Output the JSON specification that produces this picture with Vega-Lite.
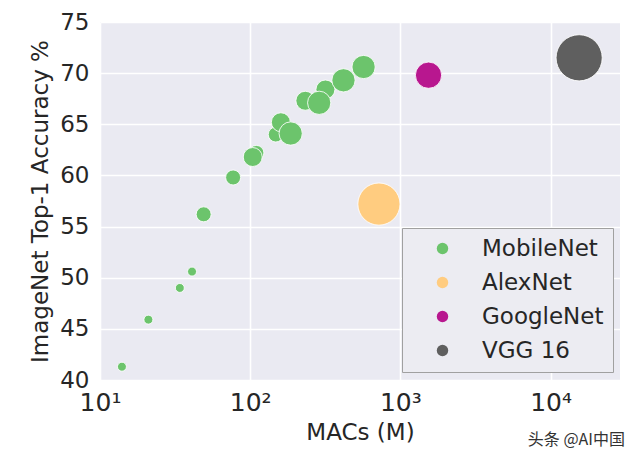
{
  "$schema": "https://vega.github.io/schema/vega-lite/v6.json",
  "width": 520,
  "height": 358,
  "autosize": "none",
  "padding": {"left": 100, "top": 22, "right": 20, "bottom": 81},
  "background": "white",
  "title": {
    "text": "头条 @AI中国",
    "orient": "bottom",
    "anchor": "end",
    "font": "Noto Sans CJK SC",
    "fontSize": 16,
    "fontWeight": "normal",
    "color": "#333333",
    "offset": -12,
    "dx": 5
  },
  "config": {
    "view": {"fill": "#EAEAF2", "stroke": null},
    "font": "DejaVu Sans",
    "axis": {
      "domain": false,
      "ticks": false,
      "grid": true,
      "gridColor": "white",
      "gridWidth": 1.6,
      "labelFont": "DejaVu Sans",
      "labelColor": "#262626",
      "titleFont": "DejaVu Sans",
      "titleColor": "#262626",
      "titleFontWeight": "normal"
    }
  },
  "data": {
    "values": [
      {"model": "MobileNet", "macs": 14, "acc": 41.3, "params": 0.47},
      {"model": "MobileNet", "macs": 21, "acc": 45.9, "params": 0.47},
      {"model": "MobileNet", "macs": 34, "acc": 49.0, "params": 0.47},
      {"model": "MobileNet", "macs": 41, "acc": 50.6, "params": 0.47},
      {"model": "MobileNet", "macs": 49, "acc": 56.2, "params": 1.32},
      {"model": "MobileNet", "macs": 77, "acc": 59.8, "params": 1.32},
      {"model": "MobileNet", "macs": 110, "acc": 62.2, "params": 1.32},
      {"model": "MobileNet", "macs": 148, "acc": 64.0, "params": 1.32},
      {"model": "MobileNet", "macs": 104, "acc": 61.8, "params": 2.59},
      {"model": "MobileNet", "macs": 160, "acc": 65.2, "params": 2.59},
      {"model": "MobileNet", "macs": 233, "acc": 67.3, "params": 2.59},
      {"model": "MobileNet", "macs": 317, "acc": 68.4, "params": 2.59},
      {"model": "MobileNet", "macs": 186, "acc": 64.1, "params": 4.24},
      {"model": "MobileNet", "macs": 288, "acc": 67.1, "params": 4.24},
      {"model": "MobileNet", "macs": 418, "acc": 69.3, "params": 4.24},
      {"model": "MobileNet", "macs": 569, "acc": 70.6, "params": 4.24},
      {"model": "AlexNet", "macs": 720, "acc": 57.2, "params": 60},
      {"model": "GoogleNet", "macs": 1540, "acc": 69.8, "params": 6.8},
      {"model": "VGG 16", "macs": 15500, "acc": 71.5, "params": 138}
    ]
  },
  "mark": {"type": "point", "shape": "circle", "filled": true, "opacity": 1, "stroke": "white", "strokeWidth": 1, "strokeOpacity": 0.85},
  "encoding": {
    "x": {
      "field": "macs",
      "type": "quantitative",
      "scale": {"type": "log", "domain": [10, 29000], "nice": false},
      "axis": {
        "title": "MACs (M)",
        "titleFontSize": 23,
        "titlePadding": 6,
        "values": [10, 100, 1000, 10000],
        "labelExpr": "datum.value == 10 ? '10¹' : datum.value == 100 ? '10²' : datum.value == 1000 ? '10³' : '10⁴'",
        "labelFontSize": 25,
        "labelPadding": 10,
        "labelFlush": false,
        "labelOverlap": false
      }
    },
    "y": {
      "field": "acc",
      "type": "quantitative",
      "scale": {"domain": [40, 75], "nice": false, "zero": false},
      "axis": {
        "title": "ImageNet Top-1 Accuracy %",
        "titleFontSize": 23,
        "titlePadding": 7,
        "values": [40, 45, 50, 55, 60, 65, 70, 75],
        "labelFontSize": 23,
        "labelPadding": 11,
        "labelFlush": false,
        "labelOverlap": false
      }
    },
    "size": {
      "field": "params",
      "type": "quantitative",
      "scale": {"domain": [0.47, 1.32, 2.59, 4.24, 6.8, 60, 138], "range": [80, 225, 360, 540, 690, 1780, 2130]},
      "legend": null
    },
    "color": {
      "field": "model",
      "type": "nominal",
      "scale": {
        "domain": ["MobileNet", "AlexNet", "GoogleNet", "VGG 16"],
        "range": ["#6cc46c", "#ffcc80", "#b8178f", "#5f5f5f"]
      },
      "legend": {
        "title": null,
        "orient": "none",
        "legendX": 302,
        "legendY": 206,
        "fillColor": "#ececf2",
        "strokeColor": "#a0a0a0",
        "padding": 9,
        "symbolType": "circle",
        "symbolSize": 130,
        "symbolOffset": 20,
        "symbolStrokeWidth": 0,
        "labelFont": "DejaVu Sans",
        "labelFontSize": 23,
        "labelColor": "#262626",
        "labelOffset": 28,
        "rowPadding": 10,
        "labelLimit": 300
      }
    }
  }
}
